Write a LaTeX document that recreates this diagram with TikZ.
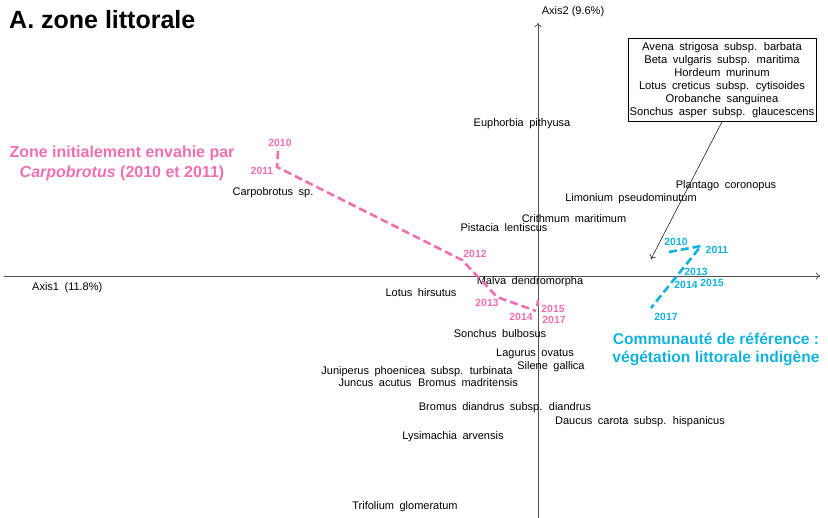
\documentclass[tikz,border=0pt]{standalone}
\usepackage{fontspec}
\setmainfont[WordSpace=1.8]{Liberation Sans}
\newfontfamily\lblfont{Liberation Sans}
\usetikzlibrary{arrows.meta}
\definecolor{pinkc}{RGB}{238,112,176}
\definecolor{bluec}{RGB}{18,178,220}
\definecolor{axisc}{RGB}{80,80,80}
\tikzset{
  sp/.style={font=\fontsize{11}{13}\selectfont, inner sep=0pt, text=black},
  yrp/.style={font=\lblfont\bfseries\fontsize{10.4}{12}\selectfont, text=pinkc, inner sep=0pt},
  yrb/.style={font=\lblfont\bfseries\fontsize{10.4}{12}\selectfont, text=bluec, inner sep=0pt},
  axisline/.style={draw=axisc, line width=0.8pt, -{To[length=4pt,width=7pt]}},
  pinkpath/.style={draw=pinkc, line width=2.6pt, dash pattern=on 8pt off 4pt},
  bluepath/.style={draw=bluec, line width=2.6pt, dash pattern=on 8pt off 4pt},
}
\begin{document}
\begin{tikzpicture}[x=1pt,y=-1pt]
\useasboundingbox (0,0) rectangle (828,518);
% axes
\coordinate (xl) at (4,276);
\coordinate (xr) at (820,276);
\coordinate (yb) at (538,518);
\coordinate (yt) at (538,23);
\draw[axisline] (xl) -- (xr);
\draw[axisline] (yb) -- (yt);
\node[sp, anchor=west] (ax1) at (32,288) {Axis1 (11.8\%)};
\node[sp, font=\lblfont\fontsize{11}{13}\selectfont] (ax2) at (573,12) {Axis2 (9.6\%)};
% title
\node[anchor=west, inner sep=0pt, font=\lblfont\bfseries\fontsize{25}{28}\selectfont] (title) at (9,20) {A. zone littorale};
% species
\node[sp] (euph) at (522,124) {Euphorbia pithyusa};
\node[sp] (plan) at (726,186) {Plantago coronopus};
\node[sp] (limo) at (631,199) {Limonium pseudominutum};
\node[sp] (crit) at (574,219) {Crithmum maritimum};
\node[sp] (pist) at (504,228) {Pistacia lentiscus};
\node[sp] (carp) at (273,193) {Carpobrotus sp.};
\node[sp] (malv) at (530,282) {Malva dendromorpha};
\node[sp] (lotu) at (421,293) {Lotus hirsutus};
\node[sp] (sonc) at (500,334) {Sonchus bulbosus};
\node[sp] (lagu) at (535,354) {Lagurus ovatus};
\node[sp] (sile) at (551,367) {Silene gallica};
\node[sp] (juni) at (417,372) {Juniperus phoenicea subsp. turbinata};
\node[sp] (junc) at (375,383) {Juncus acutus};
\node[sp] (brma) at (468,383) {Bromus madritensis};
\node[sp] (brdi) at (505,408) {Bromus diandrus subsp. diandrus};
\node[sp] (dauc) at (640,422) {Daucus carota subsp. hispanicus};
\node[sp] (lysi) at (453,437) {Lysimachia arvensis};
\node[sp] (trif) at (405,507) {Trifolium glomeratum};
% box
\node[draw=black, line width=0.6pt, align=center, inner xsep=1.5pt, inner ysep=3.5pt,
      font=\fontsize{11.2}{13.1}\selectfont] (box) at (722,80)
  {Avena strigosa subsp. barbata\\Beta vulgaris subsp. maritima\\Hordeum murinum\\Lotus creticus subsp. cytisoides\\Orobanche sanguinea\\Sonchus asper subsp. glaucescens};
\coordinate (arrend) at (651,259);
\draw[black, line width=0.5pt, -{To[length=4pt,width=7pt]}] (box.south) -- (arrend);
% pink trajectory
\coordinate (p10) at (278,151);
\coordinate (p11) at (277,167);
\coordinate (p12) at (462,260);
\coordinate (p13) at (497,297);
\coordinate (p14) at (536,311);
\coordinate (p15) at (538,300);
\coordinate (p17) at (537,309);
\draw[pinkpath] (p10) -- (p11) -- (p12) -- (p13) -- (p14);
\draw[pinkpath, dash pattern=on 6pt off 3pt] (p15) -- (p17);
\node[yrp] (y10p) at (280,143) {2010};
\node[yrp] (y11p) at (262,171) {2011};
\node[yrp] (y12p) at (475,254) {2012};
\node[yrp] (y13p) at (487,303) {2013};
\node[yrp] (y14p) at (521,317) {2014};
\node[yrp] (y15p) at (553,309) {2015};
\node[yrp] (y17p) at (554,320) {2017};
% blue trajectory
\coordinate (b10) at (669,252);
\coordinate (b11) at (701,246);
\coordinate (b17) at (651,308);
\draw[bluepath] (b10) -- (b11) -- (b17);
\node[yrb] (y10b) at (676,242) {2010};
\node[yrb] (y11b) at (717,250) {2011};
\node[yrb] (y13b) at (696,272) {2013};
\node[yrb] (y14b) at (686,285) {2014};
\node[yrb] (y15b) at (712,283) {2015};
\node[yrb] (y17b) at (666,317) {2017};
% group labels
\node[align=center, inner sep=0pt, text=pinkc, font=\lblfont\bfseries\fontsize{16}{20}\selectfont] (pinklab) at (122,163)
  {Zone initialement envahie par\\\textit{Carpobrotus} (2010 et 2011)};
\node[align=center, inner sep=0pt, text=bluec, font=\lblfont\bfseries\fontsize{15.6}{18}\selectfont] (bluelab) at (716,349)
  {Communauté de référence :\\végétation littorale indigène};
\end{tikzpicture}
\end{document}
